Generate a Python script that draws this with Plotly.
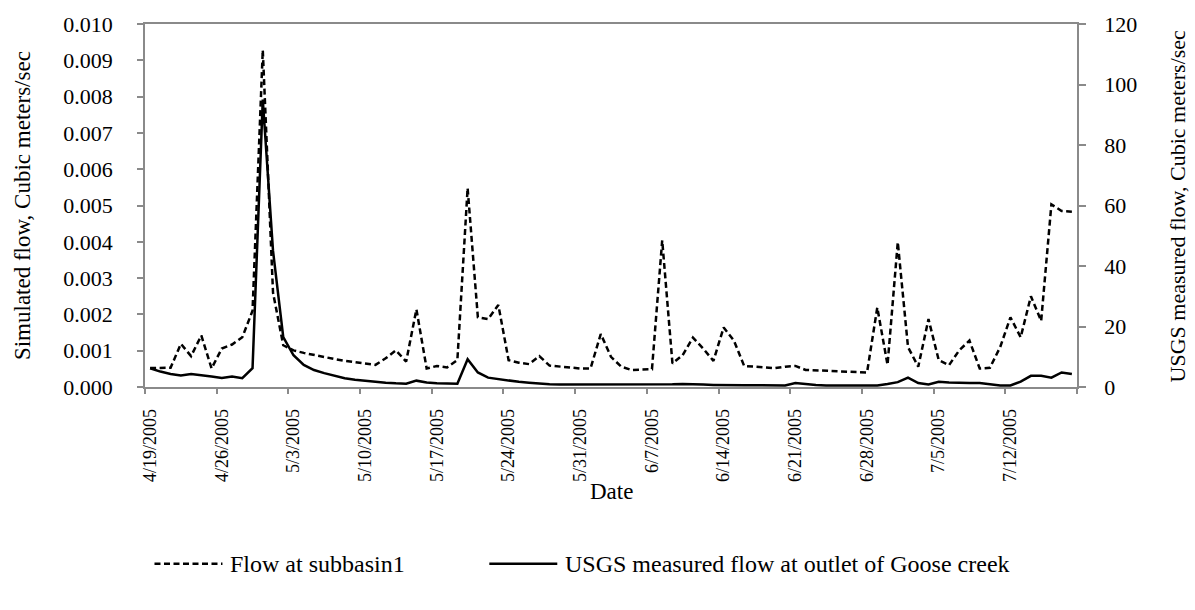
import pandas as pd
import plotly.graph_objects as go

# Daily series, starting 4/19/2005
start_date = "2005-04-19"

# Simulated flow at subbasin 1 (cubic meters/sec, left axis)
flow_subbasin1 = [
    0.00052, 0.00052, 0.00053, 0.00119, 0.00085, 0.00142, 0.00051, 0.00106, 0.00117, 0.00137,
    0.00210, 0.00928, 0.00260, 0.00115, 0.00101, 0.00094, 0.00088, 0.00081, 0.00077, 0.00072,
    0.00069, 0.00065, 0.00061, 0.00079, 0.00101, 0.00070, 0.00214, 0.00051, 0.00058, 0.00054,
    0.00074, 0.00548, 0.00192, 0.00187, 0.00226, 0.00074, 0.00067, 0.00063, 0.00085, 0.00059,
    0.00056, 0.00053, 0.00051, 0.00051, 0.00146, 0.00083, 0.00056, 0.00047, 0.00047, 0.00049,
    0.00404, 0.00065, 0.00088, 0.00136, 0.00106, 0.00072, 0.00164, 0.00128, 0.00058, 0.00056,
    0.00054, 0.00052, 0.00056, 0.00058, 0.00047, 0.00046, 0.00044, 0.00042, 0.00042, 0.00041,
    0.00040, 0.00219, 0.00061, 0.00399, 0.00110, 0.00056, 0.00187, 0.00074, 0.00060, 0.00101,
    0.00128, 0.00051, 0.00053, 0.00110, 0.00192, 0.00137, 0.00250, 0.00182, 0.00503, 0.00485,
    0.00483,
]

# USGS measured flow at the outlet of Goose creek (cubic meters/sec, right axis)
usgs_flow = [
    6.2, 5.1, 4.3, 3.8, 4.3, 4.0, 3.5, 3.0, 3.5, 2.9,
    6.2, 95.0, 45.0, 16.5, 10.5, 7.3, 5.6, 4.6, 3.7, 2.9,
    2.4, 2.0, 1.6, 1.4, 1.2, 1.1, 2.1, 1.5, 1.2, 1.1,
    1.1, 9.2, 4.8, 3.1, 2.6, 2.1, 1.7, 1.4, 1.1, 0.9,
    0.8, 0.8, 0.7, 0.7, 0.8, 0.8, 0.9, 0.9, 0.8, 0.7,
    0.8, 0.9, 1.0, 1.0, 0.8, 0.7, 0.6, 0.6, 0.6, 0.6,
    0.5, 0.5, 0.5, 1.3, 0.9, 0.7, 0.5, 0.5, 0.5, 0.5,
    0.5, 0.5, 1.0, 1.6, 3.1, 1.3, 0.8, 1.7, 1.5, 1.3,
    1.3, 1.3, 0.8, 0.5, 0.5, 1.8, 3.7, 3.7, 3.1, 4.8,
    4.3,
]

series_names = ["Flow at subbasin1", "USGS measured flow at outlet of Goose creek"]
left_title = "Simulated flow, Cubic meters/sec"
right_title = "USGS measured flow, Cubic meters/sec"
x_title = "Date"

dates = pd.date_range(start_date, periods=len(flow_subbasin1), freq="D")
half_day = pd.Timedelta(hours=12)

# Weekly tick marks sit on day boundaries; labels name the day that follows
week_starts = pd.date_range(start_date, periods=14, freq="7D")
tick_vals = [d - half_day for d in week_starts]
tick_text = [f"{d.month}/{d.day}/{d.year}" for d in week_starts[:-1]] + [""]

FONT = "Liberation Serif"
AXIS_GRAY = "#8a8a8a"

# Plot area in pixels
W, H = 1195, 610
L, R, T, B = 144.5, 1077.0, 18.3, 387.3


def px_x(p):
    return (p - L) / (R - L)


def px_y(q):
    return (B - q) / (B - T)


fig = go.Figure()
fig.add_trace(go.Scatter(
    x=dates, y=flow_subbasin1, name=series_names[0], mode="lines",
    line=dict(color="black", width=2.5, dash="6px,3.5px"), yaxis="y",
))
fig.add_trace(go.Scatter(
    x=dates, y=usgs_flow, name=series_names[1], mode="lines",
    line=dict(color="black", width=2.5), yaxis="y2",
))

fig.update_layout(
    width=W, height=H,
    margin=dict(l=L, r=W - R, t=T, b=H - B, pad=0),
    paper_bgcolor="white", plot_bgcolor="white",
    font=dict(family=FONT, color="black", size=22),
    showlegend=False,
    xaxis=dict(
        range=[dates[0] - half_day, dates[-1] + half_day],
        tickmode="array", tickvals=tick_vals, ticktext=tick_text,
        tickangle=-90, tickfont=dict(size=18, family=FONT),
        ticks="outside", ticklen=5, tickcolor=AXIS_GRAY, tickwidth=1.5,
        ticklabelshift=5, ticklabelstandoff=8,
        showline=True, linecolor=AXIS_GRAY, linewidth=1.5, mirror=True,
        showgrid=False, zeroline=False,
    ),
    yaxis=dict(
        range=[0, 0.010], dtick=0.001, tickformat=".3f",
        tickfont=dict(size=22, family=FONT),
        ticks="outside", ticklen=6, tickcolor=AXIS_GRAY, tickwidth=1.5,
        ticklabelstandoff=20,
        showline=True, linecolor=AXIS_GRAY, linewidth=1.5, mirror=True,
        showgrid=False, zeroline=False,
    ),
    yaxis2=dict(
        range=[0, 120], dtick=20, overlaying="y", side="right",
        tickfont=dict(size=22, family=FONT),
        ticks="outside", ticklen=7, tickcolor=AXIS_GRAY, tickwidth=1.5,
        ticklabelstandoff=14,
        showline=True, linecolor=AXIS_GRAY, linewidth=1.5,
        showgrid=False, zeroline=False,
    ),
)

# Axis titles
fig.add_annotation(x=px_x(22), y=0.5, xref="paper", yref="paper", text=left_title,
                   textangle=-90, showarrow=False, xanchor="center", yanchor="middle",
                   font=dict(size=23, family=FONT))
fig.add_annotation(x=px_x(1178), y=0.5, xref="paper", yref="paper", text=right_title,
                   textangle=-90, showarrow=False, xanchor="center", yanchor="middle",
                   font=dict(size=22, family=FONT))
fig.add_annotation(x=0.5, y=px_y(494), xref="paper", yref="paper", text=x_title,
                   showarrow=False, xanchor="center", yanchor="middle",
                   font=dict(size=23, family=FONT))

# Legend drawn below the chart with long line samples
legend_y = px_y(567)
legend_items = [
    (154, 222, "6px,3.5px", series_names[0]),
    (489, 557, "solid", series_names[1]),
]
for x0, x1, dash, label in legend_items:
    fig.add_shape(type="line", xref="paper", yref="paper",
                  x0=px_x(x0), x1=px_x(x1), y0=legend_y, y1=legend_y,
                  line=dict(color="black", width=2.5, dash=dash))
    fig.add_annotation(x=px_x(x1 + 6), y=legend_y, xref="paper", yref="paper",
                       text=label, showarrow=False, xanchor="left", yanchor="middle",
                       font=dict(size=24, family=FONT))

fig.write_html("out.html")
